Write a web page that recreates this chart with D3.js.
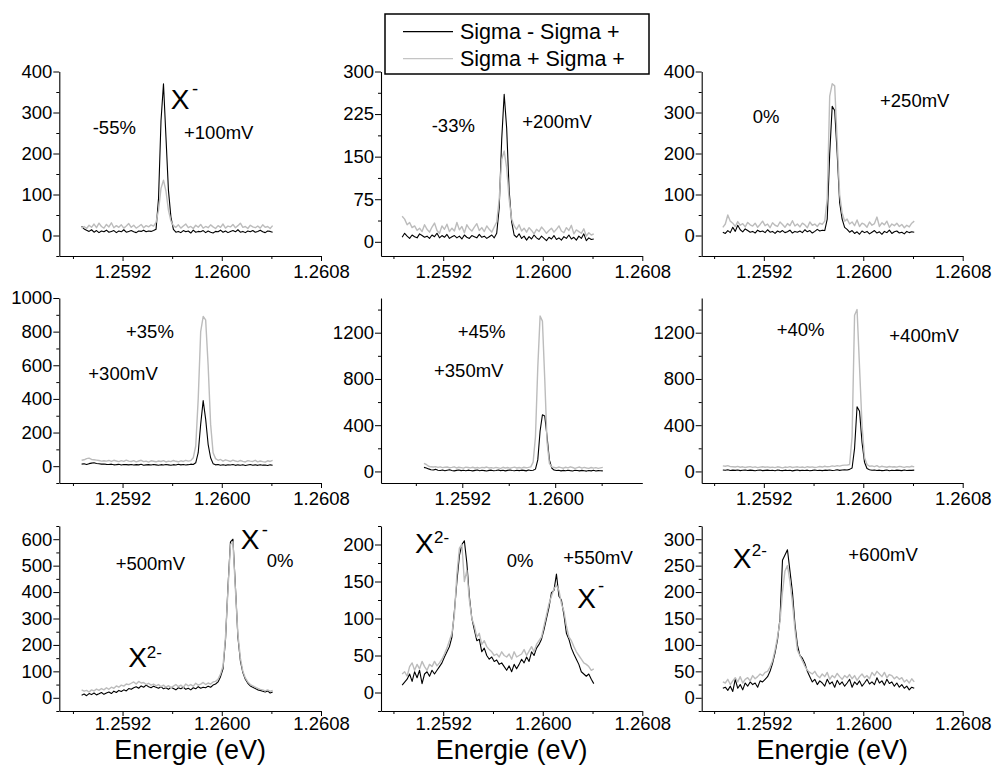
<!DOCTYPE html>
<html><head><meta charset="utf-8">
<script src="https://cdn.jsdelivr.net/npm/d3@7"></script>
<style>body{margin:0;background:#fff} svg text{font-family:"Liberation Sans",Arial,sans-serif;fill:#000}</style>
</head><body><svg id="c" width="995" height="767"></svg>
<script>
// Energy grid (eV), shared by all spectra
const energy = [
1.25887,1.25889,1.25891,1.25893,1.25895,1.25897,1.25899,1.25901,1.25903,1.25905,
1.25907,1.25909,1.25911,1.25913,1.25915,1.25917,1.25919,1.25921,1.25923,1.25925,
1.25927,1.25929,1.25931,1.25933,1.25935,1.25937,1.25939,1.25941,1.25943,1.25945,
1.25947,1.25949,1.25951,1.25953,1.25955,1.25957,1.25959,1.25961,1.25963,1.25965,
1.25967,1.25969,1.25971,1.25973,1.25975,1.25977,1.25979,1.25981,1.25983,1.25985,
1.25987,1.25989,1.25991,1.25993,1.25995,1.25997,1.25999,1.26001,1.26003,1.26005,
1.26007,1.26009,1.26011,1.26013,1.26015,1.26017,1.26019,1.26021,1.26023,1.26025,
1.26027,1.26029,1.26031,1.26033,1.26035,1.26037,1.26039,1.26041];

const seriesNames = ["Sigma - Sigma +", "Sigma + Sigma +"];
const xTicksMajor = [1.2592, 1.2600, 1.2608];
const xTicksMinor = [1.2588, 1.2596, 1.2604];

// +100 mV
const p1Black = [22,16,13,10,14,8,12,7,11,9, 13,8,10,12,7,11,9,14,8,10, 12,9,7,11,10,13,9,11,10,12,
 15,90,280,370,240,110,45,15,8,10, 7,12,9,11,6,13,8,10,9,12, 7,11,8,6,10,9,13,8,11,7,
 10,12,9,14,8,10,7,11,9,12, 8,10,13,9,7,11,10,8];
const p1Gray = [18,22,17,25,20,28,19,30,22,18, 27,21,31,19,24,20,26,18,23,29, 20,25,18,22,27,19,24,21,26,23,
 32,62,115,135,108,62,35,24,20,26, 18,23,28,19,22,17,25,20,27,18, 22,19,26,21,17,24,20,28,18,23,
 21,27,19,24,30,20,22,17,25,21, 19,23,18,26,20,22,17,24];
// +200 mV
const p2Black = [8,15,10,6,12,9,7,14,11,8, 10,6,12,9,15,7,11,8,13,6, 9,11,7,10,5,12,8,6,11,9,
 7,13,8,10,6,9,12,7,15,60, 180,260,200,90,35,12,8,14,6,10, 3,9,5,12,7,4,10,6,2,8,
 5,11,4,7,3,9,6,12,5,8, 3,10,6,14,2,7,4,5];
const p2Gray = [45,40,30,34,25,28,20,24,18,30, 22,17,26,33,20,15,28,22,31,18, 24,19,34,21,27,16,30,23,19,26,
 32,20,25,18,28,22,17,26,35,75, 145,160,130,75,40,28,22,30,19,24, 17,25,20,14,22,18,26,21,15,20,
 24,17,22,28,19,16,25,20,29,14, 21,18,15,23,10,16,12,14];
// +250 mV
const p3Black = [8,5,12,7,20,10,25,14,9,16, 12,8,10,6,13,9,11,7,14,8, 10,5,11,8,12,7,9,13,6,10,
 8,11,7,14,9,12,6,10,15,11, 13,12,40,200,315,305,200,80,40,20, 15,8,12,5,9,3,11,7,10,4,
 8,12,6,9,3,10,7,13,5,9, 11,6,8,4,10,7,9,8];
const p3Gray = [20,28,50,35,30,22,34,25,29,21, 32,26,23,30,20,27,35,24,28,19, 31,25,22,33,27,20,29,24,36,23,
 28,21,30,26,19,33,25,28,22,30, 27,35,90,340,370,365,230,100,55,35, 40,28,33,24,38,22,30,27,20,33,
 25,29,45,22,31,26,35,20,28,24, 30,22,27,19,25,21,30,35];
// +300 mV
const p4Black = [12,14,10,15,18,20,16,14,12,13, 11,10,12,8,9,11,7,10,9,8, 10,7,9,8,11,6,8,9,7,10,
 8,6,9,7,10,8,6,9,7,11, 8,10,7,9,12,10,20,80,250,390, 280,130,50,15,8,10,6,9,5,8,
 7,10,5,8,6,9,4,7,10,6, 8,5,9,6,7,4,8,6];
const p4Gray = [35,38,45,48,40,38,36,34,30,32, 30,34,28,35,31,27,33,29,36,30, 28,33,26,31,35,27,30,24,32,29,
 26,31,28,33,25,30,27,34,29,26, 32,28,35,30,33,50,120,400,800,890, 870,600,250,80,45,35,40,30,38,33,
 28,36,31,27,34,29,25,33,30,28, 35,26,31,27,24,32,28,34];
// +350 mV
const p5Black = [35,30,22,15,12,18,10,8,12,6, 10,14,8,5,9,12,7,10,6,11, 8,5,9,12,6,10,7,4,9,11,
 6,8,12,7,10,5,9,13,8,6, 10,7,11,9,5,12,8,10,20,100, 350,490,480,300,100,30,12,8,10,5,
 9,6,11,7,4,10,8,5,9,6, 3,8,5,10,4,7,6,5];
const p5Gray = [70,60,45,40,38,42,35,40,33,36, 38,32,35,40,30,36,33,29,37,34, 31,36,30,34,28,35,32,38,30,33,
 29,35,31,27,36,30,34,28,33,37, 30,34,29,36,32,35,40,80,300,900, 1345,1300,800,250,70,40,35,30,38,33,
 28,36,31,40,34,27,33,38,29,35, 30,26,34,29,33,27,31,35];
// +400 mV
const p6Black = [12,10,14,8,11,9,13,7,10,12, 8,11,9,6,10,12,7,9,11,8, 10,6,12,9,7,11,8,10,5,9,
 12,7,10,8,11,6,9,13,8,10, 7,11,9,12,8,10,14,9,12,15, 13,18,30,200,560,520,250,80,25,15,
 10,12,8,11,7,9,13,6,10,8, 11,9,7,12,8,10,9,11];
const p6Gray = [48,45,50,42,40,38,44,36,40,34, 38,42,35,40,33,37,41,36,39,34, 37,33,40,36,31,38,35,42,34,37,
 40,35,38,33,41,36,39,34,37,43, 38,45,40,42,48,44,50,46,52,55, 55,60,300,1350,1400,900,400,120,60,45,
 48,42,50,38,45,40,36,43,39,41, 37,44,40,35,42,38,45,40];
// +500 mV
const p7Black = [10,14,8,16,12,18,11,15,20,13, 18,22,16,25,20,28,24,30,26,35, 32,38,42,36,45,40,48,42,38,44,
 40,36,42,34,38,32,40,35,30,38, 34,40,32,36,30,38,34,42,36,40, 38,44,40,48,52,60,80,110,220,420,
 590,600,420,230,140,95,70,55,45,40, 35,30,28,25,22,26,18,22];
const p7Gray = [30,25,28,22,30,26,33,28,35,30, 38,32,40,36,45,40,48,44,52,50, 55,60,52,62,56,58,50,55,48,52,
 45,50,42,48,40,46,38,44,50,42, 48,40,52,45,50,44,55,48,52,58, 50,56,52,60,62,70,90,120,230,410,
 580,590,410,240,150,100,75,60,50,45, 40,36,32,30,26,30,24,28];
// +550 mV
const p8Black = [10,14,18,25,15,28,20,30,12,25, 28,22,30,25,30,35,40,48,55,62, 75,110,150,185,200,205,175,130,100,85,
 70,72,55,60,50,45,48,42,44,38, 40,35,30,36,28,38,32,38,45,40, 48,42,55,50,60,65,72,85,100,115,
 135,138,160,130,125,105,80,72,60,52, 45,38,28,25,22,25,18,12];
const p8Gray = [25,28,22,35,40,30,38,32,42,35, 30,38,35,42,36,40,45,52,60,70, 80,105,160,195,200,150,165,125,100,90,
 75,80,65,70,62,58,55,50,52,48, 55,50,48,52,45,55,48,50,52,58, 50,56,62,55,65,70,75,90,105,120,
 130,140,145,138,120,110,90,75,70,62, 55,50,45,40,38,35,30,32];
// +600 mV
const p9Black = [18,20,14,22,12,35,18,25,15,28, 22,30,25,28,20,32,30,35,40,50, 65,85,110,150,260,270,280,240,200,140,
 100,80,75,65,50,40,30,35,25,32, 28,22,35,26,30,20,33,25,30,22, 28,35,20,30,25,32,22,28,35,26,
 30,25,38,28,32,24,35,27,30,22, 28,20,25,18,22,15,20,18];
const p9Gray = [30,28,35,25,32,38,30,40,28,35, 38,32,42,36,40,45,42,48,50,58, 70,90,115,145,200,240,250,220,180,130,
 90,80,70,60,52,48,45,50,42,38, 45,40,48,35,42,38,46,40,35,42, 38,44,36,42,33,40,45,38,42,36,
 48,42,50,45,40,48,38,44,42,36, 40,35,38,30,34,28,36,30];

// y tick values per panel
const yMajor1 = [0,100,200,300,400],      yMinor1 = [-50,50,150,250,350];
const yMajor2 = [0,75,150,225,300],       yMinor2 = [37.5,112.5,187.5,262.5];
const yMajor4 = [0,200,400,600,800,1000], yMinor4 = [-100,100,300,500,700,900];
const yMajor5 = [0,400,800,1200],         yMinor5 = [200,600,1000,1400];
const yMajor7 = [0,100,200,300,400,500,600], yMinor7 = [-50,50,150,250,350,450,550,650];
const yMajor8 = [0,50,100,150,200],       yMinor8 = [-25,25,75,125,175,225];
const yMajor9 = [0,50,100,150,200,250,300], yMinor9 = [-25,25,75,125,175,225,275,325];

// Layout
const cols = [[59.3,321],[381,642.3],[701.7,962.7]];
const rows = [[71.5,256],[298,483],[526,711]];
const rowTickPad = [3.5, 3.5, 1.0];
const FS = 18.5, BIG = 28, SUP = 17;

const panels = [
 {c:0,r:0,xd:[1.25869,1.2608],yd:[-50,400],black:p1Black,gray:p1Gray,yM:yMajor1,ym:yMinor1,
  notes:[["-55%",92.7,134,FS],["+100mV",184,139.3,FS],["X",170.7,109.3,BIG],["-",192,95,FS]]},
 {c:1,r:0,xd:[1.2587,1.2608],yd:[-25,300],black:p2Black,gray:p2Gray,yM:yMajor2,ym:yMinor2,
  notes:[["-33%",431.7,131.7,FS],["+200mV",522.3,128.3,FS]]},
 {c:2,r:0,xd:[1.2587,1.2608],yd:[-50,400],black:p3Black,gray:p3Gray,yM:yMajor1,ym:yMinor1,
  notes:[["0%",752.7,123.3,FS],["+250mV",880,106.7,FS]]},
 {c:0,r:1,xd:[1.25869,1.2608],yd:[-100,1000],black:p4Black,gray:p4Gray,yM:yMajor4,ym:yMinor4,
  notes:[["+35%",126,337.7,FS],["+300mV",88.3,380,FS]]},
 {c:1,r:1,xd:[1.2585,1.26075],yd:[-100,1500],black:p5Black,gray:p5Gray,yM:yMajor5,ym:yMinor5,
  notes:[["+45%",457.7,337.7,FS],["+350mV",434,377.3,FS]]},
 {c:2,r:1,xd:[1.2587,1.2608],yd:[-100,1500],black:p6Black,gray:p6Gray,yM:yMajor5,ym:yMinor5,
  notes:[["+40%",776.7,335.7,FS],["+400mV",889.3,341.7,FS]]},
 {c:0,r:2,xd:[1.25869,1.2608],yd:[-50,650],black:p7Black,gray:p7Gray,yM:yMajor7,ym:yMinor7,label:true,
  notes:[["+500mV",115.7,570,FS],["X",240.7,549,BIG],["-",261.7,535.5,FS],["0%",266.7,566.7,FS],
         ["X",128.3,667.3,BIG],["2-",146.7,658,SUP]]},
 {c:1,r:2,xd:[1.2587,1.2608],yd:[-25,225],black:p8Black,gray:p8Gray,yM:yMajor8,ym:yMinor8,label:true,
  notes:[["X",415,552.7,BIG],["2-",434,543,SUP],["0%",506.7,566.7,FS],["+550mV",563.3,564.3,FS],
         ["X",577.3,607.7,BIG],["-",598,592,FS]]},
 {c:2,r:2,xd:[1.2587,1.2608],yd:[-25,325],black:p9Black,gray:p9Gray,yM:yMajor9,ym:yMinor9,label:true,
  notes:[["X",732.7,567.7,BIG],["2-",751.7,556,SUP],["+600mV",848.3,561,FS]]}
];

const svg = d3.select("#c");
const GRAY = "#bcbcbc";

function styleAxis(sel){
  sel.attr("font-family", null).attr("font-size", null);
  sel.selectAll("text").style("font-size", FS+"px");
  sel.select(".domain").attr("stroke-width", 1.1);
  sel.selectAll(".tick line").attr("stroke-width", 1);
}

panels.forEach(p => {
  const [left, right] = cols[p.c];
  const [top, bottom] = rows[p.r];
  const x = d3.scaleLinear().domain(p.xd).range([left, right]);
  const y = d3.scaleLinear().domain(p.yd).range([bottom, top]);
  const g = svg.append("g");
  const inX = v => v >= p.xd[0] - 1e-9 && v <= p.xd[1] + 1e-9;

  // x axis
  g.append("g").attr("transform", `translate(0,${bottom})`)
    .call(d3.axisBottom(x).tickValues(xTicksMajor.filter(inX)).tickFormat(d3.format(".4f"))
      .tickSize(5).tickPadding(rowTickPad[p.r]).tickSizeOuter(0)).call(styleAxis);
  g.append("g").attr("transform", `translate(0,${bottom})`)
    .call(d3.axisBottom(x).tickValues(xTicksMinor.filter(inX)).tickFormat("").tickSize(3))
    .call(s => s.select(".domain").remove());
  // y axis
  g.append("g").attr("transform", `translate(${left},0)`)
    .call(d3.axisLeft(y).tickValues(p.yM).tickFormat(d3.format("d"))
      .tickSize(6).tickPadding(1).tickSizeOuter(0)).call(styleAxis);
  g.append("g").attr("transform", `translate(${left},0)`)
    .call(d3.axisLeft(y).tickValues(p.ym).tickFormat("").tickSize(3))
    .call(s => s.select(".domain").remove());

  const line = d3.line().x((d, i) => x(energy[i])).y(d => y(d));
  g.append("path").datum(p.black).attr("d", line).attr("fill", "none")
    .attr("stroke", "#000").attr("stroke-width", 1.1).attr("stroke-linejoin", "round");
  g.append("path").datum(p.gray).attr("d", line).attr("fill", "none")
    .attr("stroke", GRAY).attr("stroke-width", 1.4).attr("stroke-linejoin", "round");

  p.notes.forEach(n => {
    g.append("text").attr("x", n[1]).attr("y", n[2]).style("font-size", n[3] + "px").text(n[0]);
  });

  if (p.label) {
    g.append("text").attr("x", (left + right) / 2).attr("y", 759)
      .attr("text-anchor", "middle").style("font-size", "27px").text("Energie (eV)");
  }
});

// Legend
const lg = svg.append("g");
lg.append("rect").attr("x", 385).attr("y", 14).attr("width", 264).attr("height", 60)
  .attr("fill", "#fff").attr("stroke", "#000").attr("stroke-width", 1.5);
const legendColors = ["#000", "#c4c4c4"];
seriesNames.forEach((name, i) => {
  const yy = [31.7, 58.7][i];
  lg.append("line").attr("x1", 403).attr("x2", 453).attr("y1", yy).attr("y2", yy)
    .attr("stroke", legendColors[i]).attr("stroke-width", 1.2);
  lg.append("text").attr("x", 460).attr("y", yy + 6.9).style("font-size", "21.5px").text(name);
});
</script></body></html>
